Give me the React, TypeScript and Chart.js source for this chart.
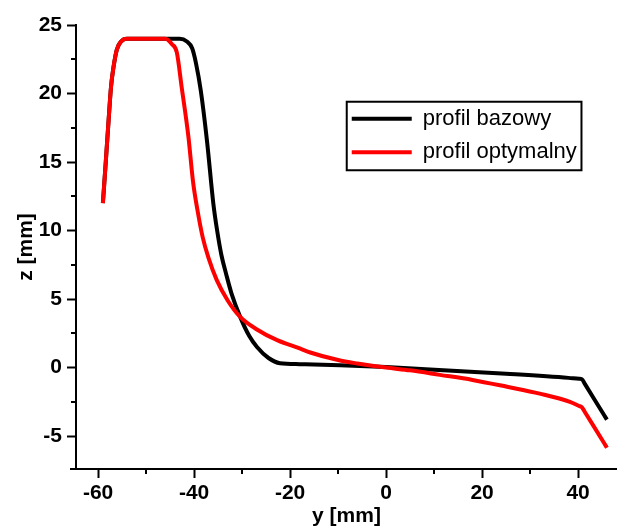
import React, { useEffect, useRef } from "react";
import { Chart, registerables } from "chart.js";

Chart.register(...registerables);

const seriesLabels = ["profil bazowy", "profil optymalny"];
const seriesColors = ["#000000", "#ff0000"];

const bazowyY = [-59.0, -58.4, -57.8, -57.3, -56.8, -56.1, -55.2, -54.0, -48, -43.0, -41.5, -40.4, -39.6, -38.6, -37.3, -36.0, -35.2, -34.3, -33.3, -32.2, -30.4, -28.5, -26.9, -24.5, -22.1, -18, -9.6, 0, 11, 25, 38, 40.2, 40.8, 41.4, 45.4, 46.0];
const bazowyZ = [12.0, 15.0, 18.1, 20.5, 21.9, 23.2, 23.8, 24, 24, 24, 23.8, 23.3, 22.2, 20.2, 16.5, 12.0, 10.0, 8.2, 6.8, 5.4, 3.7, 2.3, 1.5, 0.7, 0.32, 0.25, 0.18, 0.05, -0.17, -0.45, -0.75, -0.82, -0.85, -1.19, -3.46, -3.8];

const optymalnyY = [-59.0, -58.4, -57.8, -57.3, -56.8, -56.1, -55.2, -54.0, -50, -46.0, -44.6, -43.6, -42.6, -41.2, -40.2, -39.3, -38.2, -37.0, -35.3, -33.0, -30.4, -27.0, -22.7, -18.0, -15.8, -10.0, -6.0, 0, 5, 11.2, 18, 25.2, 32, 38.3, 40.2, 40.8, 41.4, 45.4, 46.0];
const optymalnyZ = [12.0, 15.0, 18.1, 20.5, 21.9, 23.2, 23.8, 24, 24, 24, 23.6, 23.0, 20.5, 16.9, 13.5, 11.5, 9.5, 8.0, 6.4, 4.9, 3.7, 2.8, 2.0, 1.4, 1.1, 0.55, 0.3, 0, -0.2, -0.53, -0.9, -1.4, -1.9, -2.5, -2.8, -2.9, -3.24, -5.5, -5.85];

const xTicks = [-60, -40, -20, 0, 20, 40];
const xMinorTicks = [-50, -30, -10, 10, 30];
const yTicks = [-5, 0, 5, 10, 15, 20, 25];
const yMinorTicks = [-2.5, 2.5, 7.5, 12.5, 17.5, 22.5];

const xTitle = "y [mm]";
const yTitle = "z [mm]";

const toPoints = (xs: number[], ys: number[]) => xs.map((x, i) => ({ x, y: ys[i] }));

const minorTicksPlugin = {
  id: "minorTicks",
  afterDraw(chart: any) {
    const ctx = chart.ctx;
    const xs = chart.scales.x;
    const ys = chart.scales.y;
    const area = chart.chartArea;
    ctx.save();
    ctx.strokeStyle = "#000";
    ctx.lineWidth = 2;
    ctx.beginPath();
    xMinorTicks.forEach((v) => {
      const px = Math.round(xs.getPixelForValue(v));
      ctx.moveTo(px, area.bottom);
      ctx.lineTo(px, area.bottom + 5);
    });
    yMinorTicks.forEach((v) => {
      const py = Math.round(ys.getPixelForValue(v));
      ctx.moveTo(area.left, py);
      ctx.lineTo(area.left - 5, py);
    });
    // small overshoot of the bottom axis line to the left
    ctx.moveTo(area.left - 6, area.bottom);
    ctx.lineTo(area.left, area.bottom);
    ctx.stroke();
    ctx.restore();
  },
};

const legendPlugin = {
  id: "boxLegend",
  afterDraw(chart: any) {
    const ctx = chart.ctx;
    const xs = chart.scales.x;
    const ys = chart.scales.y;
    const left = xs.getPixelForValue(-8.2);
    const right = xs.getPixelForValue(40.7);
    const top = ys.getPixelForValue(19.4);
    const bottom = ys.getPixelForValue(14.4);
    ctx.save();
    ctx.fillStyle = "#fff";
    ctx.fillRect(left, top, right - left, bottom - top);
    ctx.strokeStyle = "#000";
    ctx.lineWidth = 2;
    ctx.strokeRect(left, top, right - left, bottom - top);
    ctx.font = "22px 'Liberation Sans', Arial, sans-serif";
    ctx.textBaseline = "middle";
    ctx.textAlign = "left";
    const rowH = (bottom - top) / 2;
    chart.data.datasets.forEach((ds: any, i: number) => {
      const cy = top + rowH * (i + 0.5) + (i === 0 ? 0 : -1);
      ctx.strokeStyle = ds.borderColor;
      ctx.lineWidth = 4;
      ctx.beginPath();
      ctx.moveTo(left + 5, cy);
      ctx.lineTo(left + 65, cy);
      ctx.stroke();
      ctx.fillStyle = "#000";
      ctx.fillText(ds.label, left + 76, cy);
    });
    ctx.restore();
  },
};

export default function App() {
  const ref = useRef<HTMLCanvasElement | null>(null);
  useEffect(() => {
    if (!ref.current) return;
    const tickFont = { family: "'Liberation Sans', Arial, sans-serif", size: 21, weight: "bold" as const };
    const chart = new Chart(ref.current, {
      type: "scatter",
      data: {
        datasets: [
          {
            label: seriesLabels[0],
            data: toPoints(bazowyY, bazowyZ),
            borderColor: seriesColors[0],
            backgroundColor: seriesColors[0],
            borderWidth: 4,
            showLine: true,
            pointRadius: 0,
            cubicInterpolationMode: "monotone",
            order: 1,
          },
          {
            label: seriesLabels[1],
            data: toPoints(optymalnyY, optymalnyZ),
            borderColor: seriesColors[1],
            backgroundColor: seriesColors[1],
            borderWidth: 4,
            showLine: true,
            pointRadius: 0,
            cubicInterpolationMode: "monotone",
            order: 0,
          },
        ],
      },
      options: {
        animation: false,
        responsive: false,
        layout: { padding: { top: 25, left: 0, right: 0, bottom: 0 } },
        plugins: { legend: { display: false }, tooltip: { enabled: false } },
        scales: {
          x: {
            type: "linear",
            min: -64.6,
            max: 48.1,
            afterBuildTicks: (s: any) => {
              s.ticks = xTicks.map((v) => ({ value: v }));
            },
            afterFit: (s: any) => {
              s.height = 58;
            },
            ticks: { color: "#000", font: tickFont, padding: 3, maxRotation: 0, autoSkip: false },
            grid: { display: true, drawOnChartArea: false, drawTicks: true, tickLength: 9, tickWidth: 2, tickColor: "#000" },
            border: { display: true, color: "#000", width: 2 },
            title: { display: true, text: xTitle, color: "#000", font: tickFont, padding: { top: 0, bottom: -2 } },
          },
          y: {
            type: "linear",
            min: -7.4,
            max: 25,
            afterBuildTicks: (s: any) => {
              s.ticks = yTicks.map((v) => ({ value: v }));
            },
            afterFit: (s: any) => {
              s.width = 76;
            },
            ticks: { color: "#000", font: tickFont, padding: 5, autoSkip: false },
            grid: { display: true, drawOnChartArea: false, drawTicks: true, tickLength: 9, tickWidth: 2, tickColor: "#000" },
            border: { display: true, color: "#000", width: 2 },
            title: { display: true, text: yTitle, color: "#000", font: tickFont, padding: { top: 14, bottom: 0 } },
          },
        },
      },
      plugins: [minorTicksPlugin, legendPlugin],
    });
    return () => chart.destroy();
  }, []);
  return (
    <div style={{ position: "absolute", left: 0, top: 0, width: 617, height: 527, background: "#fff" }}>
      <canvas ref={ref} width={617} height={527} style={{ width: 617, height: 527, display: "block" }} />
    </div>
  );
}
